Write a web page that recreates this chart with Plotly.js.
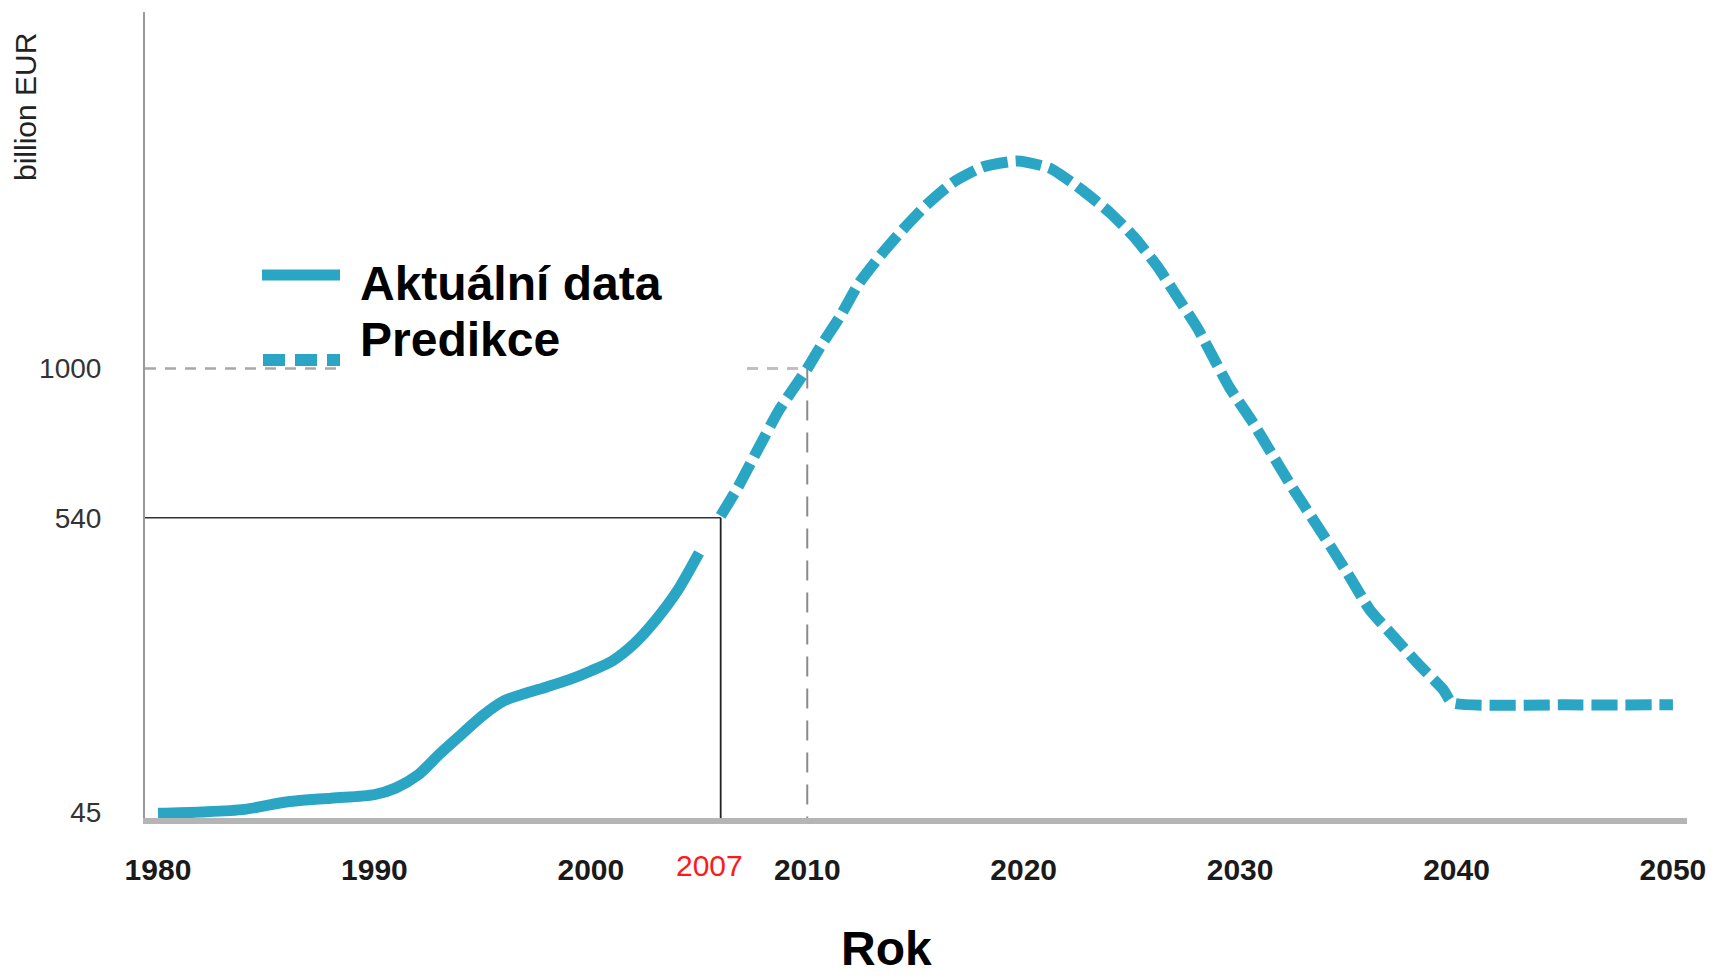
<!DOCTYPE html>
<html>
<head>
<meta charset="utf-8">
<script src="https://cdn.plot.ly/plotly-3.0.1.min.js"></script>
<style>html,body{margin:0;padding:0;background:#fff}#chart{width:1715px;height:977px}</style>
</head>
<body>
<div id="chart"></div>
<script>
// ---- data (billion EUR) ----
const actualYears = [1980,1982,1984,1986,1988,1990,1991,1992,1993,1994,1995,1996,1997,1998,1999,2000,2001,2002,2003,2004,2005];
const actualValues = [44,45,47,53,56,59,65,77,99,122,147,168,179,189,200,214,231,261,306,366,452];

const predYears = [2006,2006.8,2007.7,2008.7,2010,2010.6,2011.5,2012.4,2013.4,2014.4,2015.5,2016.7,2018.1,2019.7,2021.2,2022.7,2024,2025.1,2026.2,2027.1,2028,2029.5,2030.6,2031.5,2032.4,2033.3,2034.2,2035.1,2036,2037.1,2038.2,2039.4,2039.8,2045,2050];
const predValues = [545,623,731,858,1000,1078,1191,1327,1444,1553,1665,1768,1844,1873,1839,1735,1629,1522,1393,1270,1153,935,816,716,623,542,466,394,326,274,227,184,165,162,162];

const xTickVals = [1980,1990,2000,2010,2020,2030,2040,2050];
const xTickText = ['1980','1990','2000','2010','2020','2030','2040','2050'];
const yTickVals = [45,540,1000];
const yTickText = ['45','540','1000'];

const markYearLabel = '2007';   // red label under the axis
const markPos = 2006;           // where the 2007 guide is drawn in the picture
const markValue = 540;
const guideYear = 2010;
const guideValue = 1000;

const seriesNames = ['Aktuální data','Predikce'];
const xTitle = 'Rok';
const yTitle = 'billion EUR';

// ---- layout helpers ----
const W = 1715, H = 977;
const M = {l:145, r:28, t:12, b:159};
const PW = W - M.l - M.r, PH = H - M.t - M.b;
const px = x => (x - M.l) / PW;          // pixel -> paper x
const py = y => (H - M.b - y) / PH;      // pixel -> paper y
const xRange = [1979.4, 2050.65];
const yRange = [6.37, 51.65];            // square-root scale
const sq = v => Math.sqrt(v);
const col = '#2aa6c4';

const traces = [
  {x: actualYears, y: actualValues.map(sq), type:'scatter', mode:'lines', name: seriesNames[0],
   line:{color:col, width:11, shape:'spline', smoothing:0.8}, showlegend:false, hoverinfo:'skip'},
  {x: predYears, y: predValues.map(sq), type:'scatter', mode:'lines', name: seriesNames[1],
   line:{color:col, width:11, dash:'26px,8px', shape:'spline', smoothing:0.5}, showlegend:false, hoverinfo:'skip'}
];

const shapes = [
  // 540 solid guide
  {type:'line', layer:'below', xref:'x', yref:'y', x0:xRange[0], x1:markPos, y0:sq(markValue), y1:sq(markValue), line:{color:'#333', width:1.6}},
  {type:'line', layer:'below', xref:'x', yref:'y', x0:markPos, x1:markPos, y0:sq(markValue), y1:yRange[0], line:{color:'#222', width:1.8}},
  // 1000 dashed guide (interrupted by the legend)
  {type:'line', layer:'below', xref:'paper', yref:'y', x0:0, x1:px(340), y0:sq(guideValue), y1:sq(guideValue), line:{color:'#a8a8a8', width:2.5, dash:'11px,9px'}},
  {type:'line', layer:'below', xref:'paper', yref:'y', x0:px(747), x1:(guideYear-xRange[0])/(xRange[1]-xRange[0]), y0:sq(guideValue), y1:sq(guideValue), line:{color:'#c0c0c0', width:3, dash:'11px,9px'}},
  {type:'line', layer:'below', xref:'x', yref:'y', x0:guideYear, x1:guideYear, y0:sq(guideValue), y1:yRange[0], line:{color:'#8a8a8a', width:2, dash:'20px,12px'}},
  // legend swatches
  {type:'line', xref:'paper', yref:'paper', x0:px(262), x1:px(340), y0:py(275), y1:py(275), line:{color:col, width:11}},
  {type:'line', xref:'paper', yref:'paper', x0:px(263), x1:px(340), y0:py(360), y1:py(360), line:{color:col, width:12, dash:'22px,10px'}}
];

const bold = {family:'Liberation Sans, Arial, sans-serif', size:48, color:'#000', weight:'bold'};
const annotations = [
  {xref:'paper', yref:'paper', x:px(358), y:py(283), xanchor:'left', yanchor:'middle', text:seriesNames[0], showarrow:false, font:bold},
  {xref:'paper', yref:'paper', x:px(358), y:py(339), xanchor:'left', yanchor:'middle', text:seriesNames[1], showarrow:false, font:bold},
  {xref:'paper', yref:'paper', x:px(886), y:py(948), xanchor:'center', yanchor:'middle', text:xTitle, showarrow:false, font:bold},
  {xref:'paper', yref:'paper', x:px(26), y:py(107), xanchor:'center', yanchor:'middle', textangle:-90, text:yTitle, showarrow:false,
   font:{family:'Liberation Sans, Arial, sans-serif', size:30, color:'#222'}},
  {xref:'x', yref:'paper', x:markPos-0.5, y:py(866), xanchor:'center', yanchor:'middle', text:markYearLabel, showarrow:false,
   font:{family:'Liberation Sans, Arial, sans-serif', size:30, color:'#ff1a1a'}}
];

const layout = {
  width:W, height:H, margin:M, paper_bgcolor:'#fff', plot_bgcolor:'#fff', showlegend:false,
  xaxis:{range:xRange, tickmode:'array', tickvals:xTickVals, ticktext:xTickText, showgrid:false, zeroline:false,
         showline:true, linecolor:'#b5b5b5', linewidth:6, ticks:'outside', ticklen:20, tickcolor:'rgba(0,0,0,0)',
         tickfont:{family:'Liberation Sans, Arial, sans-serif', size:30, color:'#1a1a1a', weight:'bold'}, fixedrange:true},
  yaxis:{range:yRange, tickmode:'array', tickvals:yTickVals.map(sq), ticktext:yTickText, showgrid:false, zeroline:false,
         showline:true, linecolor:'#9a9a9a', linewidth:2, ticks:'outside', ticklen:36, tickcolor:'rgba(0,0,0,0)',
         tickfont:{family:'Liberation Sans, Arial, sans-serif', size:28, color:'#333'}, fixedrange:true},
  shapes:shapes, annotations:annotations
};

Plotly.newPlot('chart', traces, layout, {staticPlot:true, displayModeBar:false});
</script>
</body>
</html>
